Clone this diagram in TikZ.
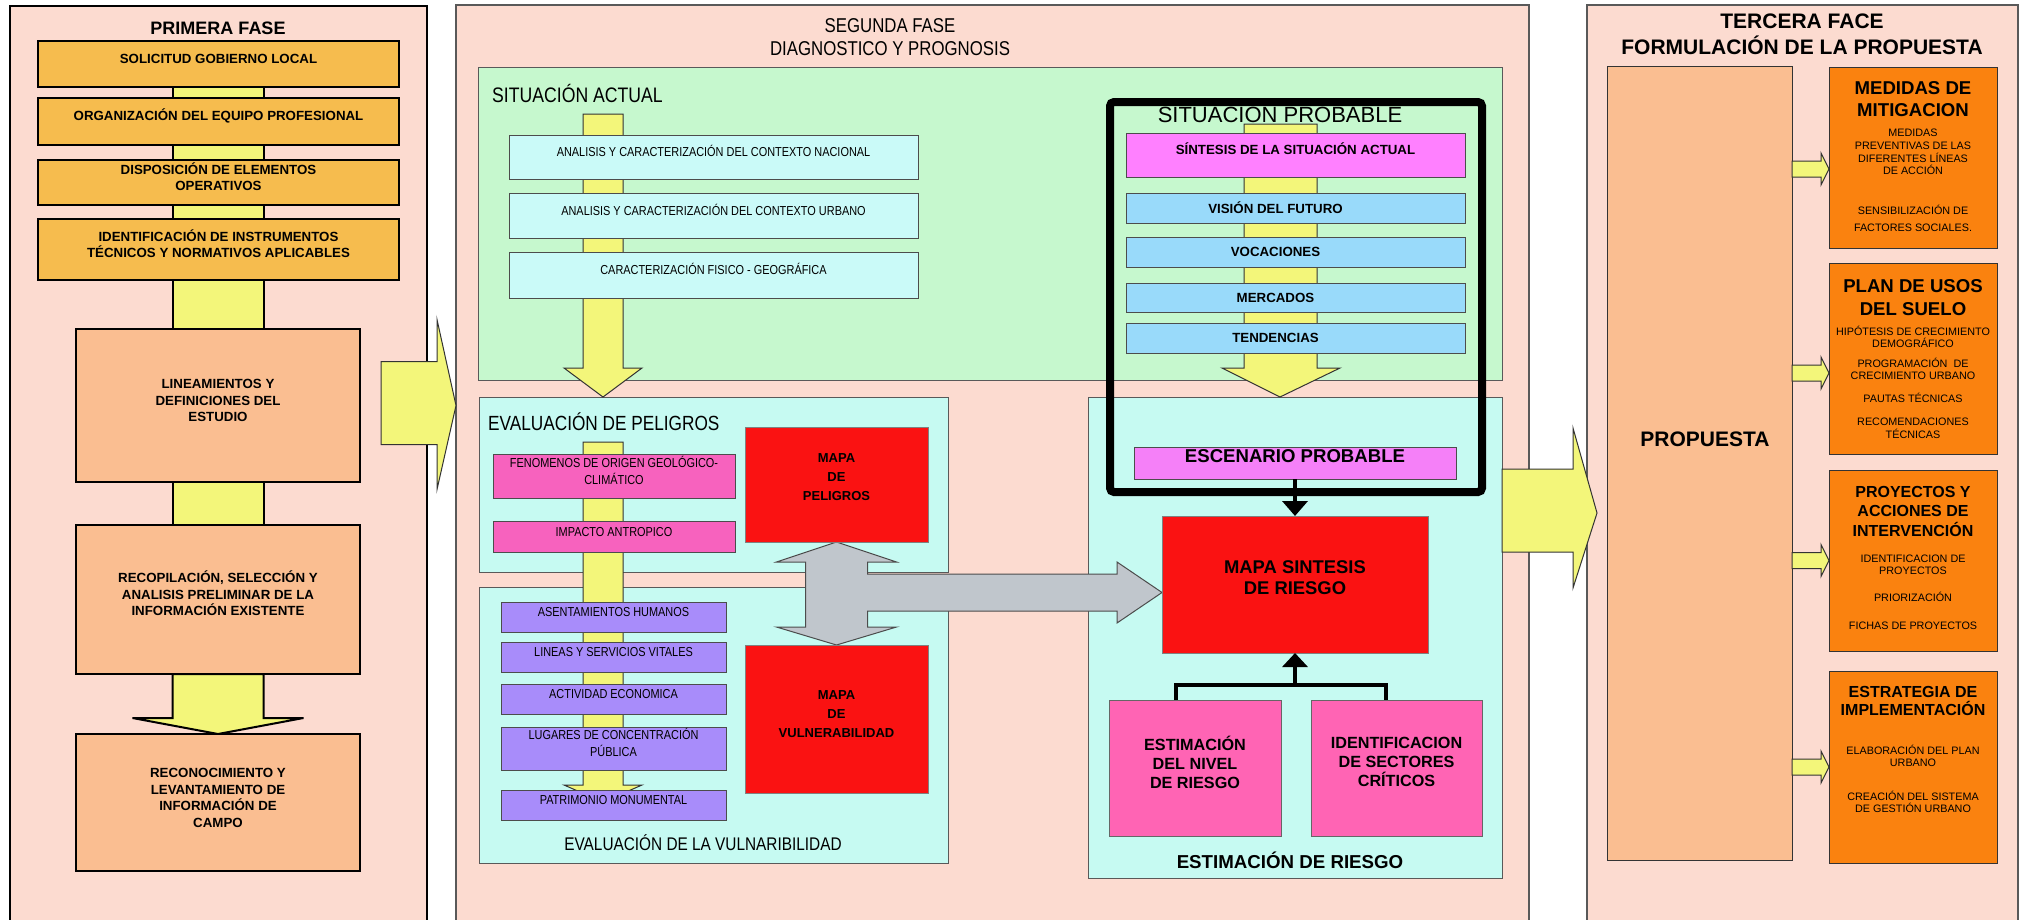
\documentclass[tikz,border=0pt]{standalone}
\usepackage{fontspec}
\setmainfont{Liberation Sans}
\newfontfamily\nrw{Liberation Sans}[FakeStretch=0.84]
\usetikzlibrary{calc,fit,arrows.meta}
\definecolor{fondo}{RGB}{252,219,208}
\definecolor{ocre}{RGB}{246,188,78}
\definecolor{salmon}{RGB}{250,190,145}
\definecolor{amarillo}{RGB}{243,246,122}
\definecolor{verde}{RGB}{198,248,206}
\definecolor{celeste}{RGB}{202,250,248}
\definecolor{aqua}{RGB}{198,250,242}
\definecolor{rosa}{RGB}{247,98,190}
\definecolor{rojo}{RGB}{250,18,18}
\definecolor{lila}{RGB}{168,140,250}
\definecolor{gris}{RGB}{192,198,204}
\definecolor{fucsia}{RGB}{255,128,255}
\definecolor{fucsiab}{RGB}{245,128,248}
\definecolor{azul}{RGB}{153,218,250}
\definecolor{rosab}{RGB}{255,100,180}
\definecolor{naranja}{RGB}{250,130,15}
\pgfdeclarelayer{back}
\pgfdeclarelayer{mid}
\pgfsetlayers{back,mid,main}

\begin{document}
\begin{tikzpicture}[x=1pt,y=-1pt,
		caja/.style={inner sep=0,outer sep=0,align=center},
		fase/.style={caja,draw=black!65,line width=1.2,fill=fondo},
		zona/.style={caja,draw=black!65,line width=1},
		pbox/.style={caja,draw,line width=2.5,fill=ocre,font=\bfseries\fontsize{13.3}{16.5}\selectfont},
		lbox/.style={pbox,line width=2,fill=salmon},
		nbox/.style={caja,draw=black!70,line width=1,font=\nrw\fontsize{13}{17}\selectfont},
		bbox/.style={caja,draw=black!70,line width=1,font=\bfseries\fontsize{13.3}{16}\selectfont},
		mapa/.style={caja,draw=black!50,line width=1,fill=rojo,font=\bfseries\fontsize{13}{19}\selectfont},
		rbox/.style={caja,draw=black!60,line width=1,fill=rosab},
		obox/.style={caja,draw=black!80,line width=1,fill=naranja},
		mover/.style n args={3}{label={[inner sep=0,align=center,font=#1,shift={(#2)}]center:{#3}}},
		ot/.style={inner sep=0,align=center,font=\bfseries\fontsize{18.6}{22}\selectfont},
		os/.style={inner sep=0,align=center,font=\fontsize{10.8}{12.6}\selectfont},
		ttl/.style={inner sep=0,align=center},
		barra/.style={draw,line width=2,fill=amarillo},
		blk/.style={draw=black!80,line width=1,fill=amarillo},
		conn/.style={line width=4}]
	\useasboundingbox (0,0) rectangle (2027,919);
	\begin{pgfonlayer}{back}
		\fill[white] (0,0) rectangle (2027,919);
		\node[fase,draw=black,line width=2.5,fit={(10,6)(427,930)}] (f1) {};
		\node[fase,fit={(456,5)(1529,930)}] (f2) {};
		\node[fase,fit={(1587,5)(2018,930)}] (f3) {};
		\node[zona,fill=verde,fit={(478,67)(1502,380)}] (sa) {};
		\node[zona,fill=aqua,fit={(479,397)(948,572)}] (ep) {};
		\node[zona,fill=aqua,fit={(479,587)(948,863)}] (ev) {};
		\node[zona,fill=aqua,fit={(1088,397)(1502,878)}] (er) {};
	\end{pgfonlayer}

	\node[ttl,font=\bfseries\fontsize{18}{21}\selectfont] (t1) at (218,28) {PRIMERA FASE};
	\node[pbox,fit={(38,41)(399,87)}] (p1) {SOLICITUD GOBIERNO LOCAL};
	\node[pbox,fit={(38,98)(399,145)}] (p2) {ORGANIZACIÓN DEL EQUIPO PROFESIONAL};
	\node[pbox,fit={(38,160)(399,205)}] (p3) {DISPOSICIÓN DE ELEMENTOS\\OPERATIVOS};
	\node[pbox,fit={(38,219)(399,280)}] (p4) {IDENTIFICACIÓN DE INSTRUMENTOS\\TÉCNICOS Y NORMATIVOS APLICABLES};
	\node[lbox,fit={(76,329)(360,482)}] (p5) {LINEAMIENTOS Y\\DEFINICIONES DEL\\ESTUDIO};
	\node[lbox,fit={(76,525)(360,674)}] (p6) {RECOPILACIÓN, SELECCIÓN Y\\ANALISIS PRELIMINAR DE LA\\INFORMACIÓN EXISTENTE};
	\node[lbox,fit={(76,734)(360,871)}] (p7) {RECONOCIMIENTO Y\\LEVANTAMIENTO DE\\INFORMACIÓN DE\\CAMPO};

	\node[ttl,font=\nrw\fontsize{20}{23}\selectfont] (t2) at (890,37) {SEGUNDA FASE\\DIAGNOSTICO Y PROGNOSIS};
	\node[ttl,anchor=west,font=\nrw\fontsize{21}{24}\selectfont] (tsa) at (492,93) {SITUACIÓN ACTUAL};
	\node[nbox,fill=celeste,fit={(509,135)(918,179)}] (a1) {ANALISIS Y CARACTERIZACIÓN DEL CONTEXTO NACIONAL};
	\node[nbox,fill=celeste,fit={(509,193)(918,238)}] (a2) {ANALISIS Y CARACTERIZACIÓN DEL CONTEXTO URBANO};
	\node[nbox,fill=celeste,fit={(509,252)(918,298)}] (a3) {CARACTERIZACIÓN FISICO - GEOGRÁFICA};

	\node[ttl,anchor=west,font=\nrw\fontsize{20.5}{24}\selectfont] (tep) at (488,422) {EVALUACIÓN DE PELIGROS};
	\node[nbox,fill=rosa,fit={(493,454)(735,498)}] (e1) {FENOMENOS DE ORIGEN GEOLÓGICO-\\CLIMÁTICO};
	\node[nbox,fill=rosa,fit={(493,521)(735,552)}] (e2) {IMPACTO ANTROPICO};
	\node[mapa,fit={(745,427)(928,542)},mover={\bfseries\fontsize{13}{19}\selectfont}{0,-7}{MAPA\\DE\\PELIGROS}] (mp) {};
	\node[nbox,fill=lila,fit={(501,602)(726,632)}] (v1) {ASENTAMIENTOS HUMANOS};
	\node[nbox,fill=lila,fit={(501,642)(726,672)}] (v2) {LINEAS Y SERVICIOS VITALES};
	\node[nbox,fill=lila,fit={(501,684)(726,714)}] (v3) {ACTIVIDAD ECONOMICA};
	\node[nbox,fill=lila,fit={(501,727)(726,770)}] (v4) {LUGARES DE CONCENTRACIÓN\\PÚBLICA};
	\node[nbox,fill=lila,fit={(501,790)(726,820)}] (v5) {PATRIMONIO MONUMENTAL};
	\node[mapa,fit={(745,645)(928,793)}] (mv) {MAPA\\DE\\VULNERABILIDAD};
	\node[ttl,font=\nrw\fontsize{18.3}{21}\selectfont] (tev) at (703,843) {EVALUACIÓN DE LA VULNARIBILIDAD};

	\node[ttl,font=\fontsize{22}{25}\selectfont] (tsp) at (1280,113) {SITUACIÓN PROBABLE};
	\node[bbox,fill=fucsia,fit={(1126,133)(1465,177)}] (s0) {SÍNTESIS DE LA SITUACIÓN ACTUAL};
	\node[bbox,fill=azul,fit={(1126,193)(1465,223)},mover={\bfseries\fontsize{13.3}{16}\selectfont}{-20,0}{VISIÓN DEL FUTURO}] (s1) {};
	\node[bbox,fill=azul,fit={(1126,237)(1465,267)},mover={\bfseries\fontsize{13.3}{16}\selectfont}{-20,0}{VOCACIONES}] (s2) {};
	\node[bbox,fill=azul,fit={(1126,283)(1465,312)},mover={\bfseries\fontsize{13.3}{16}\selectfont}{-20,0}{MERCADOS}] (s3) {};
	\node[bbox,fill=azul,fit={(1126,323)(1465,353)},mover={\bfseries\fontsize{13.3}{16}\selectfont}{-20,0}{TENDENCIAS}] (s4) {};
	\node[bbox,fill=fucsiab,font=\bfseries\fontsize{18.6}{21}\selectfont,fit={(1134,447)(1456,479)}] (es) {ESCENARIO PROBABLE};
	\node[mapa,font=\bfseries\fontsize{18.4}{21}\selectfont,fit={(1162,516)(1428,653)}] (ms) {MAPA SINTESIS\\DE RIESGO};
	\node[rbox,fit={(1109,700)(1281,836)},mover={\bfseries\fontsize{16.2}{19}\selectfont}{0,-6}{ESTIMACIÓN\\DEL NIVEL\\DE RIESGO}] (r1) {};
	\node[rbox,fit={(1311,700)(1482,836)},mover={\bfseries\fontsize{16.2}{19}\selectfont}{0,-6}{IDENTIFICACION\\DE SECTORES\\CRÍTICOS}] (r2) {};
	\node[ttl,font=\bfseries\fontsize{18.7}{21}\selectfont] (ter) at (1290,860) {ESTIMACIÓN DE RIESGO};
	\draw[line width=8,rounded corners=4] (1110,102) rectangle (1482,492);

	\node[ttl,font=\bfseries\fontsize{21}{26}\selectfont] (t3) at (1802,34) {TERCERA FACE\\FORMULACIÓN DE LA PROPUESTA};
	\node[caja,draw=black!80,line width=1,fill=salmon,fit={(1607,66)(1792,860)}] (pr) {};
	\node[ttl,font=\bfseries\fontsize{21}{24}\selectfont] (tpr) at (1705,439) {PROPUESTA};
	\node[obox,fit={(1829,67)(1997,248)}] (m1) {};
	\node[obox,fit={(1829,263)(1997,454)}] (m2) {};
	\node[obox,fit={(1829,470)(1997,651)}] (m3) {};
	\node[obox,fit={(1829,671)(1997,863)}] (m4) {};
	\node[ot] (m1t) at (1913,99) {MEDIDAS DE\\MITIGACION};
	\node[os] (m1a) at (1913,152) {MEDIDAS\\PREVENTIVAS DE LAS\\DIFERENTES LÍNEAS\\DE ACCIÓN};
	\node[os,font=\fontsize{10.8}{17}\selectfont] (m1b) at (1913,218) {SENSIBILIZACIÓN DE\\FACTORES SOCIALES.};
	\node[ot,font=\bfseries\fontsize{18.6}{23}\selectfont] (m2t) at (1913,298) {PLAN DE USOS\\DEL SUELO};
	\node[os,font=\fontsize{10.8}{12}\selectfont] (m2a) at (1913,337) {HIPÓTESIS DE CRECIMIENTO\\DEMOGRÁFICO};
	\node[os,font=\fontsize{10.8}{12}\selectfont] (m2b) at (1913,369) {PROGRAMACIÓN \ DE\\CRECIMIENTO URBANO};
	\node[os] (m2c) at (1913,398) {PAUTAS TÉCNICAS};
	\node[os,font=\fontsize{10.8}{13}\selectfont] (m2d) at (1913,428) {RECOMENDACIONES\\TÉCNICAS};
	\node[ot,font=\bfseries\fontsize{16}{19.5}\selectfont] (m3t) at (1913,511) {PROYECTOS Y\\ACCIONES DE\\INTERVENCIÓN};
	\node[os,font=\fontsize{10.8}{12}\selectfont] (m3a) at (1913,565) {IDENTIFICACION DE\\PROYECTOS};
	\node[os] (m3b) at (1913,597) {PRIORIZACIÓN};
	\node[os] (m3c) at (1913,626) {FICHAS DE PROYECTOS};
	\node[ot,font=\bfseries\fontsize{16}{18}\selectfont] (m4t) at (1913,701) {ESTRATEGIA DE\\IMPLEMENTACIÓN};
	\node[os,font=\fontsize{10.8}{12}\selectfont] (m4a) at (1913,756) {ELABORACIÓN DEL PLAN\\URBANO};
	\node[os,font=\fontsize{10.8}{12}\selectfont] (m4b) at (1913,802) {CREACIÓN DEL SISTEMA\\DE GESTIÓN URBANO};

	\begin{pgfonlayer}{mid}
		\foreach \a/\b in {p1/p2,p2/p3,p3/p4,p4/p5,p5/p6}
			\filldraw[barra] ([xshift=-45.5]\a.south) rectangle ([xshift=45.5]\b.north);
		\filldraw[barra] ([xshift=-45.5]p6.south) -- ++(0,44) -- ++(-40,0) -- (p7.north) -- ++(85.5,-16) -- ++(-40,0) -- ([xshift=45.5]p6.south) -- cycle;
		\filldraw[blk] ($(a1.north)+(-130.5,-21)$) -- ++(40,0) -- ++(0,254) -- ++(19,0) -- ($(ep.north west)+(124,0)$) -- ++(-39,-29) -- ++(19,0) -- cycle;
		\filldraw[blk] ($(ep.north west)+(104,45)$) -- ++(40,0) -- ++(0,343) -- ++(19,0) -- ($(v5.north)+(-10.5,12)$) -- ++(-39,-17) -- ++(19,0) -- cycle;
		\filldraw[blk] ($(s0.north)+(-51.5,-9)$) -- ++(73,0) -- ++(0,244) -- ++(23,0) -- ($(er.north)+(-15,0)$) -- ++(-58,-29) -- ++(22,0) -- cycle;
		\filldraw[draw=black!70,line width=1,fill=gris] (mp.south) -- ++(60,20) -- ++(-29,0) -- ++(0,12) -- ($(ms.west)+(-45,-10.5)$) -- ++(0,-12) -- ($(ms.west)+(0,8)$) -- ++(-45,30.5) -- ++(0,-12) -- ++(-249.5,0) -- ++(0,16) -- ++(29,0) -- (mv.north) -- ++(-60,-18) -- ++(29,0) -- ++(0,-65) -- ++(-29,0) -- cycle;
	\end{pgfonlayer}

	\filldraw[blk] (p5.center -| f2.west) -- ++(-19,-86) -- ++(0,42) -- ++(-56,0) -- ++(0,83) -- ++(56,0) -- ++(0,45) -- cycle;
	\filldraw[blk] ($(er.north east)+(0,72)$) -- ++(71,0) -- ++(0,-41) -- ++(24,85) -- ++(-24,75) -- ++(0,-36) -- ++(-71,0) -- cycle;
	\foreach \b/\d in {m1/-11.5,m2/-14.5,m3/0,m4/0}
		\filldraw[blk] ([yshift=\d]\b.west) -- ++(-8,-16) -- ++(0,8) -- ++(-29,0) -- ++(0,16) -- ++(29,0) -- ++(0,8) -- cycle;

	\draw[conn,-{Triangle[width=25pt,length=15pt]}] (es) -- (ms);
	\coordinate (j) at (1295,685);
	\draw[conn] ([xshift=-19]r1.north) |- (j) -| ([xshift=-10.5]r2.north);
	\draw[conn,-{Triangle[width=25pt,length=14pt]}] (j) -- (ms.south);
\end{tikzpicture}
\end{document}
